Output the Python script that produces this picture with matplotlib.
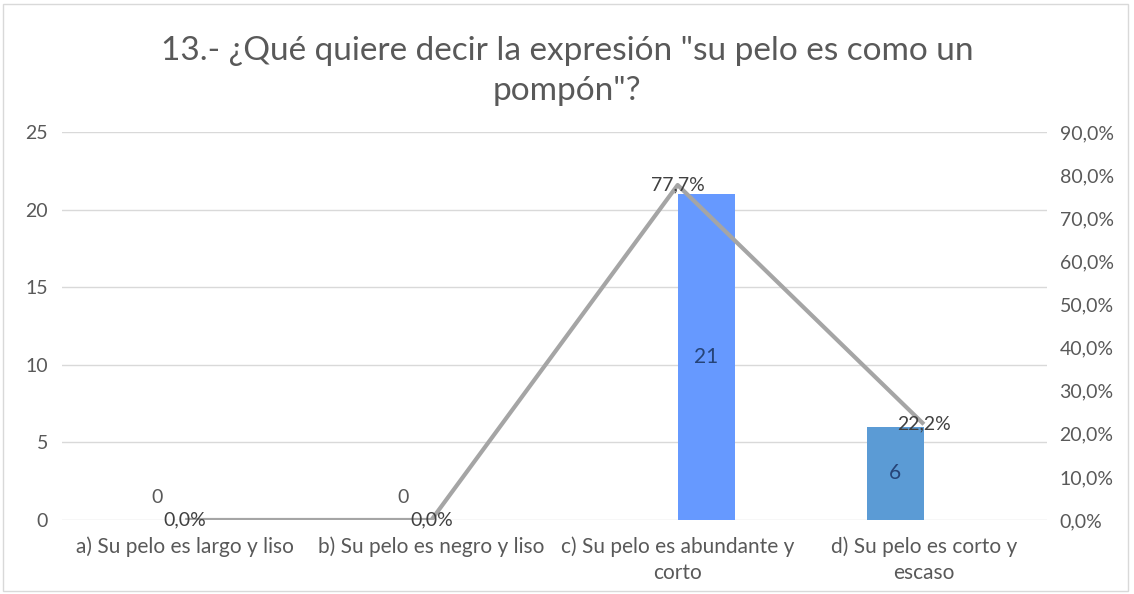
import numpy as np
import matplotlib.pyplot as plt
from matplotlib.patches import Rectangle
from matplotlib.ticker import FuncFormatter

plt.rcParams['font.family'] = ['Lato', 'DejaVu Sans']

# Data
categories = ["a) Su pelo es largo y liso", "b) Su pelo es negro y liso",
              "c) Su pelo es abundante y\ncorto", "d) Su pelo es corto y\nescaso"]
counts_left = [0, 0, np.nan, 6]
counts_right = [np.nan, np.nan, 21, np.nan]
percents = [0.0, 0.0, 77.7, 22.2]

title = '13.- ¿Qué quiere decir la expresión "su pelo es como un\npompón"?'

grey_txt = '#595959'
x = np.arange(len(categories))
w = 0.232

fig = plt.figure(figsize=(11.34, 5.94), dpi=100)
fig.add_artist(Rectangle((0.003, 0.005), 0.992, 0.988, transform=fig.transFigure,
                         fill=False, edgecolor='#D9D9D9', lw=1))
ax = fig.add_axes([0.0547, 0.1246, 0.8686, 0.6532])

ax.bar(x - w / 2, counts_left, w, color='#5B9BD5', zorder=2)
ax.bar(x + w / 2, counts_right, w, color='#6699FF', zorder=2)
ax.set_xlim(-0.5, len(categories) - 0.5)
ax.set_ylim(0, 25)
ax.set_yticks(range(0, 26, 5))
ax.grid(axis='y', color='#D9D9D9', lw=1, zorder=0)
ax.set_axisbelow(True)
for s in ax.spines.values():
    s.set_visible(False)
ax.tick_params(length=0, labelsize=14, colors=grey_txt, pad=10)
ax.tick_params(axis='x', labelsize=15, pad=12)
ax.set_xticks(x)
ax.set_xticklabels(categories, linespacing=1.35)

# bar labels
for i, v in enumerate(counts_left):
    if np.isnan(v):
        continue
    if v == 0:
        ax.annotate(f'{v:.0f}', (x[i] - w / 2, 0), xytext=(0, 16), textcoords='offset points',
                    ha='center', va='center', fontsize=14, color=grey_txt)
    else:
        ax.text(x[i] - w / 2, v / 2, f'{v:.0f}', ha='center', va='center',
                fontsize=15, color='#264478', zorder=3)
for i, v in enumerate(counts_right):
    if np.isnan(v):
        continue
    ax.text(x[i] + w / 2, v / 2, f'{v:.0f}', ha='center', va='center',
            fontsize=15, color='#264478', zorder=3)

# percent line on secondary axis
ax2 = ax.twinx()
ax2.plot(x, percents, color='#A5A5A5', lw=3, zorder=4, solid_capstyle='butt')
ax2.set_ylim(0, 90)
ax2.set_yticks(range(0, 91, 10))
ax2.yaxis.set_major_formatter(FuncFormatter(lambda v, p: f'{v:.1f}%'.replace('.', ',')))
for s in ax2.spines.values():
    s.set_visible(False)
ax2.tick_params(length=0, labelsize=14, colors=grey_txt, pad=9)
for i, p in enumerate(percents):
    ax2.text(x[i], p, f'{p:.1f}%'.replace('.', ','), ha='center', va='center',
             fontsize=14, color='#404040', zorder=5)

fig.text(0.5, 0.88, title, ha='center', va='center', fontsize=24,
         color=grey_txt, linespacing=1.4)

fig.savefig('out.png', dpi=100)
